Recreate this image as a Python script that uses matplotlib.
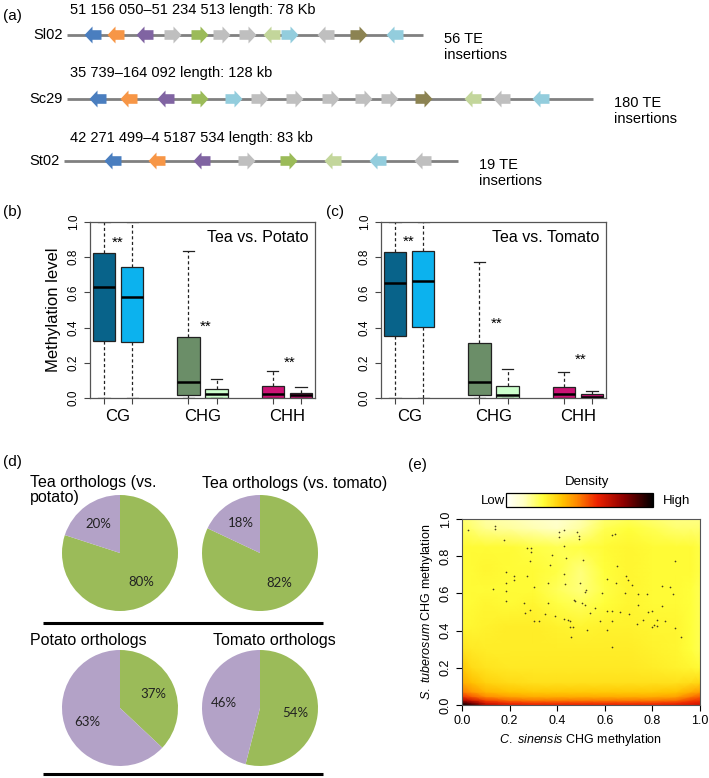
import numpy as np
import matplotlib
matplotlib.use('Agg')
import matplotlib.pyplot as plt
from matplotlib.patches import Polygon
from matplotlib.colors import LinearSegmentedColormap
from matplotlib.cm import ScalarMappable

plt.rcParams['font.family'] = ['Liberation Sans', 'DejaVu Sans']
plt.rcParams['mathtext.fontset'] = 'custom'
plt.rcParams['mathtext.rm'] = 'Liberation Sans'
plt.rcParams['mathtext.it'] = 'Liberation Sans:italic'

W, H = 709, 778

# ---------------- data ----------------
# (a) gene tracks: name, header, TE text, line span, gene centres, directions, colours
tracks = ['Sl02', 'Sc29', 'St02']
headers = ['51 156 050\u201351 234 513 length: 78 Kb',
           '35 739\u2013164 092 length: 128 kb',
           '42 271 499\u20134 5187 534 length: 83 kb']
te_text = ['56 TE\ninsertions', '180 TE\ninsertions', '19 TE\ninsertions']
track_start = [67, 67, 64]
track_end = [423, 593, 458]
gene_pos = [[93, 116, 145, 173, 200, 222, 248, 272, 290, 326, 359, 395],
            [98, 129, 166, 200, 234, 260, 295, 331, 364, 390, 424, 473, 502, 541],
            [113, 157, 202, 247, 289, 333, 378, 423]]
gene_dir = [[-1, -1, -1, 1, 1, 1, 1, -1, 1, -1, 1, -1],
            [-1, -1, -1, 1, 1, 1, 1, 1, 1, 1, 1, -1, -1, -1],
            [-1, -1, -1, 1, 1, -1, -1, -1]]
gene_col = [['blue', 'orange', 'purple', 'gray', 'green', 'gray', 'gray', 'lgreen', 'lblue', 'gray', 'olive', 'lblue'],
            ['blue', 'orange', 'purple', 'green', 'lblue', 'gray', 'gray', 'gray', 'gray', 'gray', 'olive', 'lgreen', 'gray', 'lblue'],
            ['blue', 'orange', 'purple', 'gray', 'green', 'lgreen', 'lblue', 'gray']]
palette = {'blue': '#4a7ebf', 'orange': '#f79646', 'purple': '#8064a2', 'gray': '#bfbfbf',
           'green': '#9bbb59', 'lgreen': '#c3d69b', 'lblue': '#93cddd', 'olive': '#8c8352'}

# (b)/(c) boxplots: tea CG, other CG, tea CHG, other CHG, tea CHH, other CHH
contexts = ['CG', 'CHG', 'CHH']
b_q1 = [0.325, 0.32, 0.015, 0.0, 0.0, 0.0]
b_med = [0.63, 0.575, 0.09, 0.02, 0.02, 0.015]
b_q3 = [0.825, 0.745, 0.345, 0.05, 0.068, 0.03]
b_lo = [0.0, 0.0, 0.0, 0.0, 0.0, 0.0]
b_hi = [1.0, 1.0, 0.835, 0.11, 0.155, 0.06]
c_q1 = [0.355, 0.405, 0.015, 0.0, 0.0, 0.0]
c_med = [0.655, 0.665, 0.09, 0.015, 0.02, 0.005]
c_q3 = [0.83, 0.835, 0.315, 0.07, 0.065, 0.02]
c_lo = [0.0, 0.0, 0.0, 0.0, 0.0, 0.0]
c_hi = [1.0, 1.0, 0.77, 0.165, 0.145, 0.04]
box_pos = [1, 2, 4, 5, 7, 8]
box_col = ['#08638a', '#0cb2ee', '#6b8e68', '#ccffcc', '#cc1275', '#cc1275']
star_x = [1.5, 4.6, 7.6]
b_star_y = [0.88, 0.405, 0.2]
c_star_y = [0.885, 0.42, 0.215]

# (d) pies: green share, purple share
pie_titles = ['Tea orthologs (vs.\npotato)', 'Tea orthologs (vs. tomato)',
              'Potato orthologs', 'Tomato orthologs']
pie_green = [80, 82, 37, 54]
pie_purple = [20, 18, 63, 46]

dens_x = [0.0, 0.04, 0.1, 0.2, 0.3, 0.4, 0.5, 0.6, 0.7, 0.8, 0.9, 0.96, 1.0]
dens_y = [0.0, 0.012, 0.025, 0.045, 0.07, 0.12, 0.2, 0.3, 0.42, 0.55, 0.62, 0.72, 0.85, 0.95, 1.0]
dens_z = [
    [1.0, 0.92, 0.72, 0.64, 0.62, 0.62, 0.62, 0.62, 0.62, 0.62, 0.64, 0.66, 0.68],
    [0.9, 0.82, 0.66, 0.6, 0.58, 0.58, 0.58, 0.58, 0.58, 0.58, 0.6, 0.63, 0.65],
    [0.75, 0.68, 0.58, 0.52, 0.5, 0.5, 0.5, 0.5, 0.5, 0.5, 0.52, 0.58, 0.6],
    [0.6, 0.55, 0.48, 0.44, 0.42, 0.42, 0.42, 0.42, 0.42, 0.42, 0.44, 0.5, 0.54],
    [0.5, 0.46, 0.41, 0.38, 0.37, 0.37, 0.37, 0.37, 0.37, 0.37, 0.38, 0.42, 0.45],
    [0.42, 0.39, 0.35, 0.33, 0.32, 0.32, 0.32, 0.32, 0.32, 0.32, 0.32, 0.33, 0.34],
    [0.37, 0.33, 0.31, 0.3, 0.3, 0.3, 0.3, 0.3, 0.3, 0.29, 0.28, 0.27, 0.26],
    [0.31, 0.3, 0.29, 0.29, 0.29, 0.29, 0.29, 0.29, 0.29, 0.28, 0.27, 0.25, 0.23],
    [0.27, 0.27, 0.28, 0.29, 0.29, 0.28, 0.27, 0.28, 0.28, 0.27, 0.27, 0.25, 0.23],
    [0.26, 0.26, 0.27, 0.26, 0.27, 0.24, 0.22, 0.25, 0.27, 0.26, 0.26, 0.25, 0.23],
    [0.26, 0.26, 0.26, 0.26, 0.26, 0.22, 0.19, 0.24, 0.27, 0.26, 0.26, 0.25, 0.23],
    [0.26, 0.26, 0.27, 0.26, 0.26, 0.24, 0.19, 0.25, 0.27, 0.26, 0.26, 0.26, 0.24],
    [0.26, 0.26, 0.26, 0.26, 0.24, 0.23, 0.24, 0.26, 0.27, 0.26, 0.26, 0.26, 0.24],
    [0.22, 0.2, 0.17, 0.16, 0.14, 0.12, 0.16, 0.23, 0.25, 0.23, 0.2, 0.2, 0.2],
    [0.2, 0.18, 0.15, 0.14, 0.12, 0.1, 0.14, 0.2, 0.22, 0.2, 0.18, 0.18, 0.18],
]
pts_x = [0.025, 0.137, 0.137, 0.175, 0.185, 0.185, 0.185, 0.185, 0.129, 0.220, 0.217,
         0.273, 0.290, 0.287, 0.291, 0.273, 0.259, 0.287, 0.266, 0.301, 0.301, 0.322,
         0.350, 0.361, 0.361, 0.378, 0.371, 0.389, 0.406, 0.408, 0.427, 0.429, 0.429,
         0.431, 0.429, 0.436, 0.445, 0.452, 0.455, 0.457, 0.466, 0.469, 0.476, 0.483,
         0.490, 0.490, 0.497, 0.503, 0.510, 0.515, 0.522, 0.517, 0.524, 0.536, 0.559,
         0.587, 0.608, 0.611, 0.608, 0.629, 0.629, 0.632, 0.629, 0.643, 0.648, 0.650,
         0.662, 0.685, 0.688, 0.699, 0.703, 0.713, 0.741, 0.741, 0.762, 0.776, 0.783,
         0.797, 0.797, 0.818, 0.818, 0.839, 0.842, 0.853, 0.874, 0.888, 0.895, 0.895,
         0.919, 0.734, 0.808, 0.580]
pts_y = [0.943, 0.964, 0.946, 0.885, 0.715, 0.655, 0.614, 0.560, 0.625, 0.695, 0.670,
         0.844, 0.844, 0.772, 0.822, 0.691, 0.548, 0.512, 0.497, 0.634, 0.449, 0.449,
         0.490, 0.548, 0.655, 0.808, 0.754, 0.476, 0.928, 0.903, 0.939, 0.856, 0.704,
         0.652, 0.463, 0.790, 0.458, 0.449, 0.422, 0.368, 0.422, 0.562, 0.557, 0.928,
         0.907, 0.892, 0.655, 0.548, 0.781, 0.610, 0.619, 0.535, 0.404, 0.494, 0.524,
         0.601, 0.679, 0.503, 0.404, 0.503, 0.449, 0.314, 0.916, 0.919, 0.655, 0.745,
         0.499, 0.601, 0.691, 0.673, 0.488, 0.643, 0.598, 0.539, 0.458, 0.598, 0.501,
         0.503, 0.422, 0.458, 0.425, 0.641, 0.530, 0.449, 0.637, 0.596, 0.772, 0.413,
         0.368, 0.434, 0.431, 0.449]


def rect(l, t, w, h):
    return [l / W, 1 - (t + h) / H, w / W, h / H]


fig = plt.figure(figsize=(W / 100, H / 100), dpi=100)

# overlay for panel letters, pie titles and rules (pixel coordinates)
ov = fig.add_axes(rect(0, 0, W, H))
ov.set_xlim(0, W)
ov.set_ylim(H, 0)
ov.axis('off')
for lab, x, y in [('(a)', 3, 16), ('(b)', 3, 212), ('(c)', 326, 212), ('(d)', 3, 462), ('(e)', 408, 465)]:
    ov.text(x, y, lab, fontsize=11, va='center', ha='left')

# ---------------- (a) ----------------
track_y = [35, 99, 161]
head_y = [10, 73, 138]
for i in range(3):
    y = track_y[i]
    ov.plot([track_start[i], track_end[i]], [y, y], color='#808080', lw=2.0, solid_capstyle='butt', zorder=1)
    ov.text(track_start[i] - 4, y, tracks[i], ha='right', va='center', fontsize=10.5)
    ov.text(70, head_y[i], headers[i], ha='left', va='center', fontsize=10.5)
    ov.text(track_end[i] + 21, y - 3, te_text[i], ha='left', va='top', fontsize=10.5, linespacing=1.2)
    for x, d, c in zip(gene_pos[i], gene_dir[i], gene_col[i]):
        L, hd, bh, hh = 8.5, 8.0, 4.8, 8.5
        xs = np.array([-L, L - hd, L - hd, L, L - hd, L - hd, -L]) * d + x
        ys = np.array([-bh, -bh, -hh, 0, hh, bh, bh]) + y
        ov.add_patch(Polygon(np.column_stack([xs, ys]), closed=True, facecolor=palette[c],
                             edgecolor='none', zorder=2))


# ---------------- (b), (c) ----------------
def box_panel(ax, q1, med, q3, lo, hi, stars_y, title):
    stats = [dict(q1=a, med=m, q3=b, whislo=l, whishi=h, fliers=[])
             for a, m, b, l, h in zip(q1, med, q3, lo, hi)]
    bp = ax.bxp(stats, positions=box_pos, widths=0.8, patch_artist=True, showfliers=False,
                boxprops=dict(edgecolor='#222222', linewidth=0.9),
                medianprops=dict(color='black', linewidth=1.8),
                whiskerprops=dict(color='#222222', linewidth=0.9, linestyle=(0, (2.5, 2))),
                capprops=dict(color='#222222', linewidth=0.9))
    for patch, col in zip(bp['boxes'], box_col):
        patch.set_facecolor(col)
    ax.set_xlim(0.5, 8.5)
    ax.set_ylim(0, 1)
    ax.set_xticks(box_pos)
    ax.set_xticklabels([])
    for k, lab in enumerate(contexts):
        ax.text(1.5 + 3 * k, -0.065, lab, ha='center', va='top', fontsize=12,
                transform=ax.get_xaxis_transform())
    ax.set_yticks([0, 0.2, 0.4, 0.6, 0.8, 1.0])
    ax.set_yticklabels(['0.0', '0.2', '0.4', '0.6', '0.8', '1.0'], rotation=90, va='center', fontsize=8.5)
    ax.tick_params(direction='out', length=4, width=0.8, color='#444444')
    for s in ax.spines.values():
        s.set_color('#555555')
        s.set_linewidth(0.9)
    for x, y in zip(star_x, stars_y):
        ax.text(x, y, '**', ha='center', va='center', fontsize=11)
    ax.text(0.97, 0.91, title, transform=ax.transAxes, ha='right', va='center', fontsize=11.5)


axb = fig.add_axes(rect(90, 222, 225, 176))
box_panel(axb, b_q1, b_med, b_q3, b_lo, b_hi, b_star_y, 'Tea vs. Potato')
axb.set_ylabel('Methylation level', fontsize=12, labelpad=5)
axc = fig.add_axes(rect(381, 222, 225, 176))
box_panel(axc, c_q1, c_med, c_q3, c_lo, c_hi, c_star_y, 'Tea vs. Tomato')

# ---------------- (d) ----------------
pie_centres = [(120, 553), (260, 553), (120, 708), (260, 708)]
title_xy = [(30, 490), (202, 483), (30, 640), (213, 640)]
r = 58
for k in range(4):
    cx, cy = pie_centres[k]
    ax = fig.add_axes(rect(cx - r, cy - r, 2 * r, 2 * r))
    ax.pie([pie_green[k], pie_purple[k]], colors=['#9bbb59', '#b3a2c7'], startangle=90,
           counterclock=False, autopct='%.0f%%', pctdistance=0.62,
           textprops=dict(fontsize=9.5, family=['Lato', 'DejaVu Sans'], color='#222222'),
           wedgeprops=dict(linewidth=0))
    ax.set_xlim(-1, 1)
    ax.set_ylim(-1, 1)
    ax.set_aspect('equal')
    tx, ty = title_xy[k]
    ov.text(tx, ty, pie_titles[k], ha='left', va='center', fontsize=11.5, linespacing=1.0)
for y in [623, 774]:
    ov.plot([43, 323], [y, y], color='black', lw=2.2, solid_capstyle='butt')

# ---------------- (e) ----------------
cmap = LinearSegmentedColormap.from_list('dens', [
    (0.0, '#ffffff'), (0.12, '#ffffc4'), (0.25, '#ffff3a'), (0.38, '#ffc400'),
    (0.48, '#ff8a00'), (0.62, '#ee2200'), (0.8, '#8f0000'), (1.0, '#000000')])
axe = fig.add_axes(rect(462, 519, 238, 186))
axe.pcolormesh(dens_x, dens_y, np.array(dens_z), cmap=cmap, vmin=0, vmax=1, shading='gouraud')
axe.scatter(pts_x, pts_y, s=1.5, color='#4a4020', linewidths=0)
axe.set_xlim(0, 1)
axe.set_ylim(0, 1)
ticks = [0, 0.2, 0.4, 0.6, 0.8, 1.0]
ticklabs = ['0.0', '0.2', '0.4', '0.6', '0.8', '1.0']
axe.set_xticks(ticks)
axe.set_xticklabels(ticklabs, fontsize=9)
axe.set_yticks(ticks)
axe.set_yticklabels(ticklabs, fontsize=9, rotation=90, va='center')
axe.tick_params(direction='out', length=4, width=0.8)
axe.set_xlabel('$\\it{C.\\ sinensis}$ CHG methylation', fontsize=9, labelpad=3)
axe.set_ylabel('$\\it{S.\\ tuberosum}$ CHG methylation', fontsize=9, labelpad=3)
for s in axe.spines.values():
    s.set_color('#555555')

cax = fig.add_axes(rect(506, 493, 147, 14))
cb = fig.colorbar(ScalarMappable(cmap=cmap), cax=cax, orientation='horizontal')
cb.set_ticks([])
cb.outline.set_linewidth(0.9)
ov.text(587, 482, 'Density', ha='center', va='center', fontsize=9.5)
ov.text(505, 501, 'Low', ha='right', va='center', fontsize=9.5)
ov.text(663, 501, 'High', ha='left', va='center', fontsize=9.5)

fig.savefig('out.png', dpi=100)
